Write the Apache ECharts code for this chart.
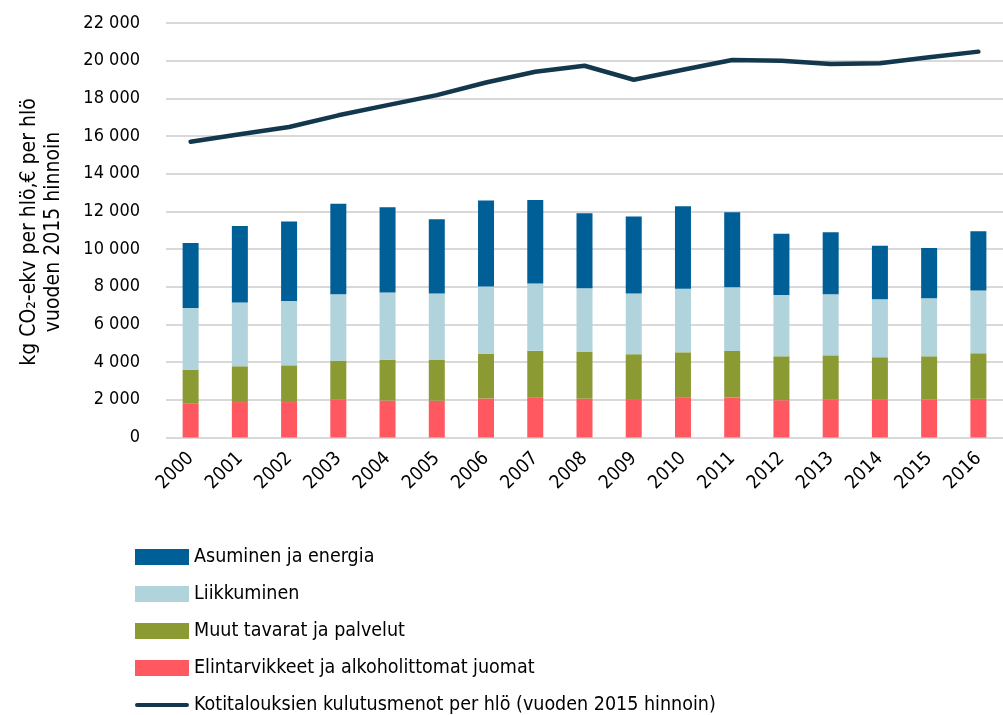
<!DOCTYPE html>
<html lang="fi">
<head>
<meta charset="UTF-8">
<title>Kulutuksen päästöt</title>
<script src="https://cdn.jsdelivr.net/npm/echarts@6/dist/echarts.min.js"></script>
<style>
  html, body { margin: 0; padding: 0; background: #fff; }
</style>
</head>
<body>
<div id="main" style="width:1003px;height:715px;"></div>
<script type="text/javascript">
// vuodet
var years = ['2000','2001','2002','2003','2004','2005','2006','2007','2008','2009','2010','2011','2012','2013','2014','2015','2016'];

// pinotut pylväät, kg CO2-ekv per hlö (alhaalta ylös)
var elintarvikkeet = [1820,1880,1880,2000,1960,1950,2070,2140,2060,2040,2140,2120,1980,2000,2000,2020,2050];
var muutTavarat    = [1780,1900,1950,2080,2170,2170,2380,2460,2500,2380,2380,2470,2330,2360,2260,2290,2420];
var liikkuminen    = [3270,3380,3410,3520,3560,3520,3560,3570,3360,3220,3380,3380,3250,3240,3080,3080,3330];
var asuminen       = [3450,4070,4230,4800,4530,3950,4570,4440,3980,4090,4370,3980,3250,3290,2840,2670,3150];

// kulutusmenot per hlö, € (vuoden 2015 hinnoin)
var kulutusmenot = [15700,16090,16480,17100,17640,18170,18840,19410,19730,18990,19520,20040,20000,19820,19860,20180,20480];

var yTicks = { min: 0, max: 22000, interval: 2000 };

var FONT = '"DejaVu Sans Condensed", "Liberation Sans Narrow", sans-serif';

var myChart = echarts.init(document.getElementById('main'));

function fmt(v) {
    // tuhaterotin välilyönnillä
    return String(v).replace(/\B(?=(\d{3})+(?!\d))/g, ' ');
}

myChart.setOption({
    animation: false,
    textStyle: { fontFamily: FONT },
    grid: {
        left: 166,
        top: 23,
        width: 847,
        bottom: 277.5,
        containLabel: false
    },
    legend: {
        orient: 'vertical',
        left: 135,
        top: 547,
        height: 200,
        padding: 0,
        itemWidth: 54,
        itemHeight: 16,
        itemGap: 17,
        textStyle: { fontSize: 19.5, color: '#000', fontFamily: FONT },
        data: [
            { name: 'Asuminen ja energia', icon: 'rect' },
            { name: 'Liikkuminen', icon: 'rect' },
            { name: 'Muut tavarat ja palvelut', icon: 'rect' },
            { name: 'Elintarvikkeet ja alkoholittomat juomat', icon: 'rect' },
            {
                name: 'Kotitalouksien kulutusmenot per hlö (vuoden 2015 hinnoin)',
                icon: 'path://M0,0 M0,8 A2,2 0 0 1 2,6 L52,6 A2,2 0 0 1 52,10 L2,10 A2,2 0 0 1 0,8 Z M54,16'
            }
        ]
    },
    graphic: [{
        type: 'text',
        x: 42,
        y: 232,
        rotation: Math.PI / 2,
        style: {
            text: 'kg CO₂-ekv per hlö,€ per hlö\nvuoden 2015 hinnoin',
            font: '21px ' + FONT,
            fill: '#000',
            align: 'center',
            verticalAlign: 'middle',
            lineHeight: 24
        }
    }],
    xAxis: {
        type: 'category',
        data: years,
        axisLine: { show: false },
        axisTick: { show: false },
        axisLabel: {
            interval: 0,
            rotate: 45,
            fontSize: 19,
            color: '#000',
            margin: 18,
            fontFamily: FONT
        }
    },
    yAxis: {
        type: 'value',
        min: yTicks.min,
        max: yTicks.max,
        interval: yTicks.interval,
        axisLine: { show: false },
        axisTick: { show: false },
        axisLabel: {
            fontSize: 18,
            color: '#000',
            margin: 26,
            fontFamily: FONT,
            formatter: fmt
        },
        splitLine: { lineStyle: { color: '#d9d9d9', width: 2 } }
    },
    series: [
        {
            name: 'Elintarvikkeet ja alkoholittomat juomat',
            type: 'bar', stack: 'co2', barWidth: 16,
            itemStyle: { color: '#ff5860' },
            data: elintarvikkeet
        },
        {
            name: 'Muut tavarat ja palvelut',
            type: 'bar', stack: 'co2', barWidth: 16,
            itemStyle: { color: '#8c9a34' },
            data: muutTavarat
        },
        {
            name: 'Liikkuminen',
            type: 'bar', stack: 'co2', barWidth: 16,
            itemStyle: { color: '#b0d3dc' },
            data: liikkuminen
        },
        {
            name: 'Asuminen ja energia',
            type: 'bar', stack: 'co2', barWidth: 16,
            itemStyle: { color: '#005f96' },
            data: asuminen
        },
        {
            name: 'Kotitalouksien kulutusmenot per hlö (vuoden 2015 hinnoin)',
            type: 'line',
            symbol: 'none',
            itemStyle: { color: '#13384d' },
            lineStyle: { color: '#13384d', width: 4.5, cap: 'round', join: 'round' },
            data: kulutusmenot
        }
    ]
});
</script>
</body>
</html>
